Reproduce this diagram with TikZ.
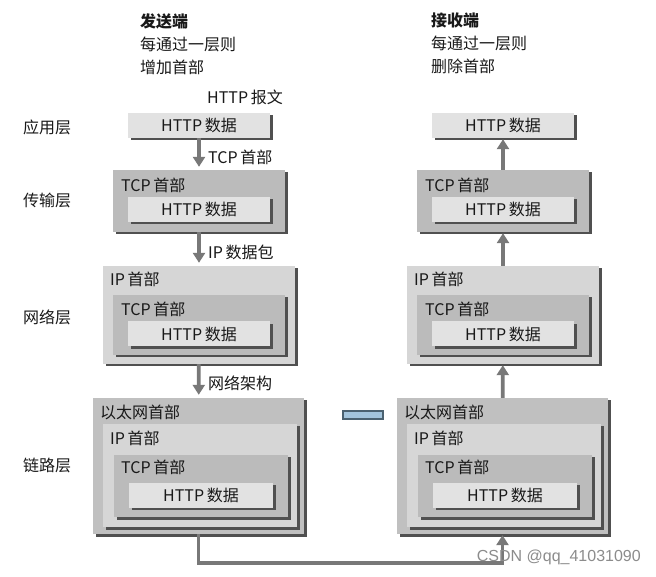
\documentclass[tikz,border=0pt]{standalone}
\usepackage{fontspec}
\newfontfamily\cjk{Noto Sans CJK SC}
\newfontfamily\wmfont{Liberation Sans}
\usetikzlibrary{arrows.meta,shadows}

\definecolor{httpgray}{HTML}{E2E2E2}
\definecolor{tcpgray}{HTML}{BBBBBB}
\definecolor{ipgray}{HTML}{D6D6D6}
\definecolor{ethgray}{HTML}{C0C0C0}
\definecolor{shadegray}{HTML}{505050}
\definecolor{flowgray}{HTML}{787878}
\definecolor{barblue}{HTML}{A3C4DC}
\definecolor{barrim}{HTML}{4B6170}

\tikzset{
  every node/.style={font=\cjk\fontsize{16}{23}\selectfont, text=black!90},
  box/.style={rectangle, inner sep=0pt, fill=#1,
    drop shadow={shadow xshift=2.5pt, shadow yshift=-2.5pt, fill=shadegray, opacity=1}},
  httpbox/.style={box=httpgray, minimum width=142pt, minimum height=25pt},
  tcpbox/.style={box=tcpgray, minimum width=172pt},
  ipbox/.style={box=ipgray},
  ethbox/.style={box=ethgray, minimum width=211pt, minimum height=136pt},
  title/.style={anchor=west, inner sep=0pt},
  head/.style={anchor=north west, inner sep=0pt, align=left},
  flow/.style={draw=flowgray, line width=3.8pt, -{Triangle[width=12pt,length=10pt]}},
  sepbar/.style={rectangle, fill=barblue, draw=barrim, line width=2pt,
    minimum width=40pt, minimum height=8pt, inner sep=0pt}
}

\begin{document}
\begin{tikzpicture}[x=1pt,y=1pt]
  \useasboundingbox[fill=white] (0,0) rectangle (656,576);

  % kopfzeilen
  \node[head] (sendhd) at (140,563) {\textbf{发送端}\\每通过一层则\\增加首部};
  \node[head] (recvhd) at (431,563) {\textbf{接收端}\\每通过一层则\\删除首部};
  \node[title] (msg) at (207,479) {HTTP\,报文};

  % schichten
  \node[title] (lyapp) at (23,449) {应用层};
  \node[title] (lytcp) at (23,376) {传输层};
  \node[title] (lynet) at (23,259) {网络层};
  \node[title] (lylnk) at (23,111) {链路层};

  % beide seiten
  \foreach \x/\s in {199/L,503/R}{
    \node[httpbox] (app\s) at (\x,450.5) {HTTP\,数据};

    \node[tcpbox, minimum height=62pt] (tcp\s) at (\x,375) {};
    \node[title] at (\x-78,391) {TCP\,首部};
    \node[httpbox] (tcpH\s) at (\x,366.5) {HTTP\,数据};

    \node[ipbox, minimum width=192pt, minimum height=98pt] (net\s) at (\x,261) {};
    \node[title] at (\x-89,297) {IP\,首部};
    \node[tcpbox, minimum height=60pt] (netT\s) at (\x,251) {};
    \node[title] at (\x-78,267) {TCP\,首部};
    \node[httpbox] (netH\s) at (\x,242) {HTTP\,数据};

    \node[ethbox] (eth\s) at (\x-0.5,110) {};
    \node[title] at (\x-99,164) {以太网首部};
    \node[ipbox, minimum width=194pt, minimum height=103pt] (ethI\s) at (\x+1,100.5) {};
    \node[title] at (\x-89,138) {IP\,首部};
    \node[tcpbox, minimum width=174pt, minimum height=62pt] (ethT\s) at (\x+2,90) {};
    \node[title] at (\x-78,109) {TCP\,首部};
    \node[httpbox, minimum width=144pt] (ethH\s) at (\x+2,81) {HTTP\,数据};
  }

  % nach unten
  \draw[flow, shorten >=3pt] (appL) -- (tcpL);
  \draw[flow, shorten >=3pt] (tcpL) -- (netL);
  \draw[flow, shorten >=3pt] (netL) -- (ethL);
  \node[title] (lbtcp) at (208,419) {TCP\,首部};
  \node[title] (lbip) at (208,324) {IP\,数据包};
  \node[title] (lbeth) at (208,193) {网络架构};

  % nach oben
  \draw[flow, shorten >=1pt] (tcpR) -- (appR);
  \draw[flow, shorten >=1pt] (netR) -- (tcpR);
  \draw[flow, shorten >=1pt] (ethR) -- (netR);

  % leitung unten
  \coordinate (busL) at (198.5,13);
  \draw[flow, shorten >=1pt] (ethL.south) -- (busL) -| (ethR.south);

  \node[sepbar] (sep) at (363,160.5) {};

  \node[anchor=east, inner sep=0pt, font=\wmfont\fontsize{16}{18}\selectfont, text=black!45] (mark) at (641,19) {CSDN @qq\_41031090};
\end{tikzpicture}
\end{document}
